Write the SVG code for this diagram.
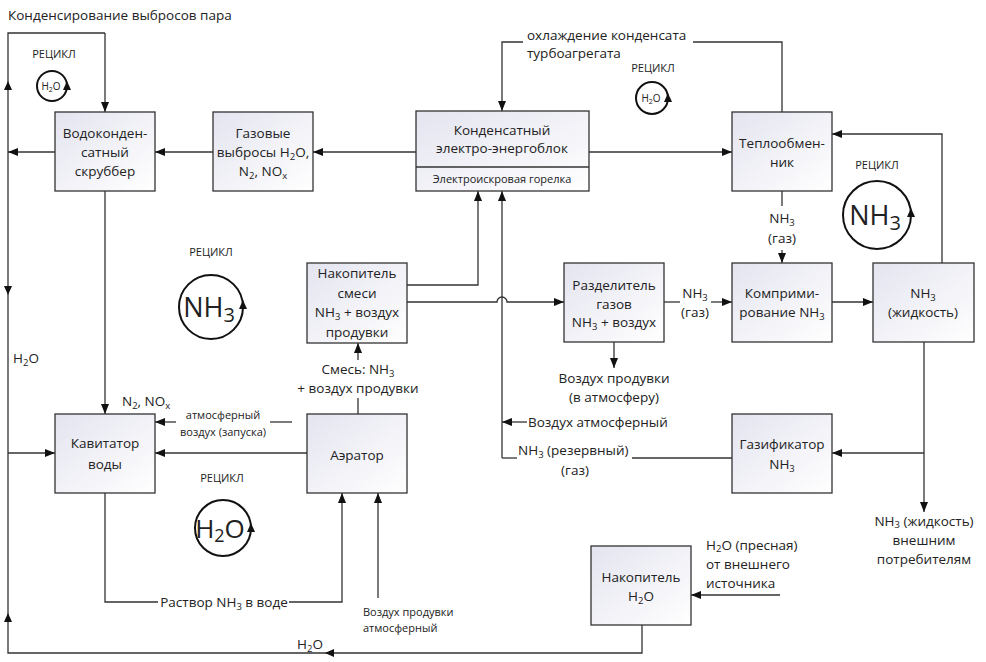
<svg xmlns="http://www.w3.org/2000/svg" width="986" height="662" viewBox="0 0 986 662">
<defs>
<linearGradient id="bg" x1="0" y1="0" x2="1" y2="1">
<stop offset="0" stop-color="#e4e4f0"/>
<stop offset="1" stop-color="#ffffff"/>
</linearGradient>
<marker id="a" viewBox="0 0 10 8" refX="10" refY="4" markerWidth="10" markerHeight="8" orient="auto" markerUnits="userSpaceOnUse"><path d="M0,0 L10,4 L0,8 z" fill="#111"/></marker>
<path id="up" d="M0,-5 L-4,4 L4,4 z" fill="#111"/>
</defs>
<style>
text{font-family:"Open Sans","Noto Sans","Liberation Sans",sans-serif;font-size:13.5px;fill:#222}
.c{text-anchor:middle}
.s{font-size:11px}
.r{font-size:11px}
.box{fill:url(#bg);stroke:#333;stroke-width:1.3}
.ln{fill:none;stroke:#333;stroke-width:1.3}
.ar{fill:none;stroke:#333;stroke-width:1.3;marker-end:url(#a)}
.cir{fill:none;stroke:#111;stroke-width:2}
.sub{font-size:9.5px}
</style>
<rect width="986" height="662" fill="#fff"/>

<text x="8" y="20">Конденсирование выбросов пара</text>

<g id="connectors">
<path class="ln" d="M642,625 V653 H8 V33 H105"/>
<path class="ar" d="M105,33 V112"/>
<use href="#up" x="8" y="86"/>
<path class="ar" d="M55,152 H8"/>
<use href="#up" transform="translate(8,290) rotate(180)"/>
<path class="ar" d="M8,453 H55"/>
<use href="#up" x="8" y="618"/>
<use href="#up" transform="translate(330,653) rotate(-90)"/>
<path class="ar" d="M213,152 H155"/>
<path class="ar" d="M416,152 H313"/>
<path class="ar" d="M589,152 H732"/>
<path class="ln" d="M782,112 V42 H693"/>
<path class="ar" d="M523,42 H502 V111"/>
<path class="ln" d="M782,191 V206"/>
<path class="ar" d="M782,250 V263"/>
<path class="ar" d="M942,263 V134 H832"/>
<path class="ar" d="M407,285 H478 V191"/>
<path class="ar" d="M502,458 V191"/>
<path class="ar" d="M407,302 H497 A5,5 0 0 1 507,302 H564"/>
<path class="ln" d="M664,302 H680"/>
<path class="ar" d="M711,302 H732"/>
<path class="ar" d="M832,302 H873"/>
<path class="ar" d="M614,342 V368"/>
<path class="ar" d="M527,422 H502"/>
<path class="ln" d="M502,458 H517"/>
<path class="ln" d="M632,458 H732"/>
<path class="ln" d="M924,342 V453"/>
<path class="ar" d="M924,453 H832"/>
<path class="ar" d="M924,453 V512"/>
<path class="ar" d="M105,191 V414"/>
<path class="ln" d="M358,414 V398"/>
<path class="ar" d="M358,360 V343"/>
<path class="ln" d="M292,422 H270"/>
<path class="ar" d="M176,422 H155"/>
<path class="ar" d="M307,453 H155"/>
<path class="ln" d="M105,493 V602 H158"/>
<path class="ar" d="M289,602 H342 V493"/>
<path class="ar" d="M378,598 V493"/>
<path class="ar" d="M780,595 H691"/>
</g>

<g id="scrubber">
<rect class="box" x="55" y="112" width="100" height="79"/>
<text class="c" x="105" y="138">Водоконден-</text>
<text class="c" x="105" y="157">сатный</text>
<text class="c" x="105" y="176">скруббер</text>
</g>
<g id="gas-emissions">
<rect class="box" x="213" y="112" width="100" height="79"/>
<text class="c" x="263" y="138">Газовые</text>
<text class="c" x="263" y="157">выбросы H<tspan class="sub" dy="3">2</tspan><tspan dy="-3">O,</tspan></text>
<text class="c" x="263" y="176">N<tspan class="sub" dy="3">2</tspan><tspan dy="-3">, NO</tspan><tspan class="sub" dy="3">x</tspan></text>
</g>
<g id="energoblock">
<rect class="box" x="416" y="111" width="173" height="80"/>
<path class="ln" d="M416,167 H589"/>
<text class="c" x="502" y="135">Конденсатный</text>
<text class="c" x="502" y="153">электро-энергоблок</text>
<text class="c s" x="502" y="183">Электроискровая горелка</text>
</g>
<g id="heat-exchanger">
<rect class="box" x="732" y="112" width="100" height="79"/>
<text class="c" x="782" y="148">Теплообмен-</text>
<text class="c" x="782" y="167">ник</text>
</g>
<g id="mix-storage">
<rect class="box" x="307" y="263" width="100" height="80"/>
<text class="c" x="357" y="278">Накопитель</text>
<text class="c" x="357" y="298">смеси</text>
<text class="c" x="357" y="317">NH<tspan class="sub" dy="3">3</tspan><tspan dy="-3"> + воздух</tspan></text>
<text class="c" x="357" y="337">продувки</text>
</g>
<g id="separator">
<rect class="box" x="564" y="263" width="100" height="79"/>
<text class="c" x="614" y="290">Разделитель</text>
<text class="c" x="614" y="309">газов</text>
<text class="c" x="614" y="327">NH<tspan class="sub" dy="3">3</tspan><tspan dy="-3"> + воздух</tspan></text>
</g>
<g id="compression">
<rect class="box" x="732" y="263" width="100" height="79"/>
<text class="c" x="782" y="298">Комприми-</text>
<text class="c" x="782" y="317">рование NH<tspan class="sub" dy="3">3</tspan></text>
</g>
<g id="nh3-liquid">
<rect class="box" x="873" y="263" width="101" height="79"/>
<text class="c" x="923" y="298">NH<tspan class="sub" dy="3">3</tspan></text>
<text class="c" x="923" y="317">(жидкость)</text>
</g>
<g id="gasifier">
<rect class="box" x="732" y="414" width="100" height="79"/>
<text class="c" x="782" y="449">Газификатор</text>
<text class="c" x="782" y="469">NH<tspan class="sub" dy="3">3</tspan></text>
</g>
<g id="cavitator">
<rect class="box" x="55" y="414" width="100" height="79"/>
<text class="c" x="105" y="448">Кавитатор</text>
<text class="c" x="105" y="469">воды</text>
</g>
<g id="aerator">
<rect class="box" x="307" y="414" width="100" height="79"/>
<text class="c" x="357" y="460">Аэратор</text>
</g>
<g id="water-storage">
<rect class="box" x="591" y="546" width="100" height="79"/>
<text class="c" x="641" y="582">Накопитель</text>
<text class="c" x="641" y="601">H<tspan class="sub" dy="3">2</tspan><tspan dy="-3">O</tspan></text>
</g>

<g id="labels">
<text x="527" y="40">охлаждение конденсата</text>
<text x="527" y="58">турбоагрегата</text>
<text class="c" x="782" y="223">NH<tspan class="sub" dy="3">3</tspan></text>
<text class="c" x="782" y="243">(газ)</text>
<text class="c" x="695" y="298">NH<tspan class="sub" dy="3">3</tspan></text>
<text class="c" x="695" y="317">(газ)</text>
<text class="c" x="614" y="383">Воздух продувки</text>
<text class="c" x="614" y="402">(в атмосферу)</text>
<text x="528" y="427">Воздух атмосферный</text>
<text x="518" y="455">NH<tspan class="sub" dy="3">3</tspan><tspan dy="-3"> (резервный)</tspan></text>
<text class="c" x="575" y="475">(газ)</text>
<text class="c" x="924" y="526">NH<tspan class="sub" dy="2">3</tspan><tspan dy="-2"> (жидкость)</tspan></text>
<text class="c" x="924" y="545">внешним</text>
<text class="c" x="924" y="564">потребителям</text>
<text x="706" y="550">H<tspan class="sub" dy="2">2</tspan><tspan dy="-2">O (пресная)</tspan></text>
<text x="706" y="569">от внешнего</text>
<text x="706" y="588">источника</text>
<text x="122" y="406">N<tspan class="sub" dy="3">2</tspan><tspan dy="-3">, NO</tspan><tspan class="sub" dy="3">x</tspan></text>
<text class="c" x="358" y="374">Смесь: NH<tspan class="sub" dy="3">3</tspan></text>
<text class="c" x="358" y="393">+ воздух продувки</text>
<text class="c s" x="223" y="419">атмосферный</text>
<text class="c s" x="223" y="436">воздух (запуска)</text>
<text x="13" y="363">H<tspan class="sub" dy="3">2</tspan><tspan dy="-3">O</tspan></text>
<text class="c" x="224" y="607">Раствор NH<tspan class="sub" dy="3">3</tspan><tspan dy="-3"> в воде</tspan></text>
<text class="s" x="363" y="616">Воздух продувки</text>
<text class="s" x="363" y="632">атмосферный</text>
<text class="c" x="310" y="649">H<tspan class="sub" dy="3">2</tspan><tspan dy="-3">O</tspan></text>
</g>

<g id="recycle-h2o-top-left">
<text class="c r" x="54" y="58">РЕЦИКЛ</text>
<circle class="cir" cx="52" cy="86" r="15"/>
<use href="#up" x="67" y="86"/>
<text class="c" x="51" y="90" style="font-size:10px">H<tspan style="font-size:7px" dy="2">2</tspan><tspan dy="-2">O</tspan></text>
</g>
<g id="recycle-h2o-top-right">
<text class="c r" x="653" y="72">РЕЦИКЛ</text>
<circle class="cir" cx="652" cy="98" r="16"/>
<use href="#up" x="668" y="98"/>
<text class="c" x="651" y="102" style="font-size:10px">H<tspan style="font-size:7px" dy="2">2</tspan><tspan dy="-2">O</tspan></text>
</g>
<g id="recycle-nh3-left">
<text class="c r" x="211" y="256">РЕЦИКЛ</text>
<circle class="cir" cx="211" cy="307" r="32"/>
<use href="#up" x="243" y="305"/>
<text class="c" x="209" y="317" style="font-size:27px">NH<tspan style="font-size:20px" dy="5">3</tspan></text>
</g>
<g id="recycle-nh3-right">
<text class="c r" x="877" y="169">РЕЦИКЛ</text>
<circle class="cir" cx="877" cy="215" r="34"/>
<use href="#up" x="911" y="213"/>
<text class="c" x="875" y="225" style="font-size:27px">NH<tspan style="font-size:20px" dy="5">3</tspan></text>
</g>
<g id="recycle-h2o-bottom">
<text class="c r" x="222" y="482">РЕЦИКЛ</text>
<circle class="cir" cx="223" cy="528" r="28"/>
<use href="#up" x="251" y="528"/>
<text class="c" x="220" y="538" style="font-size:26px">H<tspan style="font-size:18px" dy="4">2</tspan><tspan dy="-4">O</tspan></text>
</g>
</svg>
